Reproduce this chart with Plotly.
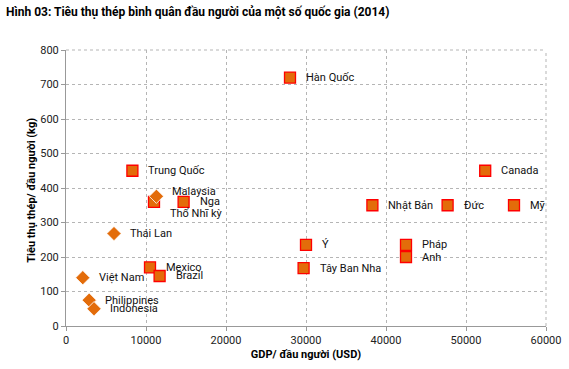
import plotly.graph_objects as go

# Data (GDP per capita USD, steel consumption kg per capita)
sq_names = ["Hàn Quốc", "Trung Quốc", "Canada", "Nhật Bản", "Đức", "Mỹ", "Ý", "Pháp", "Anh",
            "Tây Ban Nha", "Mexico", "Brazil", "Nga", "Thổ Nhĩ kỳ"]
sq_gdp = [28000, 8300, 52400, 38300, 47700, 56000, 30000, 42500, 42500, 29700, 10500, 11700, 14700, 11000]
sq_steel = [720, 450, 450, 350, 350, 350, 235, 235, 200, 168, 170, 145, 360, 360]

dm_names = ["Malaysia", "Thái Lan", "Việt Nam", "Philippines", "Indonesia"]
dm_gdp = [11300, 6000, 2100, 2900, 3500]
dm_steel = [376, 268, 140, 75, 50]

x_ticks = [0, 10000, 20000, 30000, 40000, 50000, 60000]
y_ticks = [0, 100, 200, 300, 400, 500, 600, 700, 800]

title_text = "Hình 03: Tiêu thụ thép bình quân đầu người của một số quốc gia (2014)"
x_title = "GDP/ đầu người (USD)"
y_title = "Tiêu thụ thép/ đầu người (kg)"

# label pixel offsets (style)
label_shift = {"Malaysia": (14, 5), "Thổ Nhĩ kỳ": (14, -12)}

ORANGE = "#E36C0A"
FONT = "Roboto"

fig = go.Figure()
fig.add_trace(go.Scatter(
    x=sq_gdp, y=sq_steel, mode="markers",
    marker=dict(symbol="square", size=11, color=ORANGE, line=dict(color="#FF0000", width=1.3)),
    hoverinfo="skip", showlegend=False, cliponaxis=False))
fig.add_trace(go.Scatter(
    x=dm_gdp, y=dm_steel, mode="markers",
    marker=dict(symbol="diamond", size=11, color=ORANGE, line=dict(color="white", width=0.8)),
    hoverinfo="skip", showlegend=False, cliponaxis=False))

for n, xv, yv in list(zip(sq_names, sq_gdp, sq_steel)) + list(zip(dm_names, dm_gdp, dm_steel)):
    dx, dy = label_shift.get(n, (14, 0))
    fig.add_annotation(x=xv, y=yv, text=n, showarrow=False, xanchor="left", yanchor="middle",
                       xshift=dx, yshift=dy, font=dict(family=FONT, size=11, color="#111"))

fig.add_annotation(xref="paper", yref="paper", x=-62/480, y=1 + 38/276, xanchor="left", yanchor="middle",
                   text="<b>" + title_text + "</b>", showarrow=False,
                   font=dict(family=FONT, size=12, color="#000"))

fig.add_annotation(xref="paper", yref="paper", x=-34/480, y=0.49, xanchor="center", yanchor="middle",
                   text="<b>" + y_title + "</b>", showarrow=False, textangle=-90,
                   font=dict(family=FONT, size=11, color="#000"))

grid = dict(showgrid=True, gridcolor="#b5b5b5", gridwidth=1, griddash="dot")
fig.update_xaxes(range=[0, 60000], tickvals=x_ticks, tickformat="d", ticks="outside", ticklen=4, tickcolor="#999",
                 showline=True, linecolor="#999", linewidth=1, zeroline=False, automargin=False,
                 tickfont=dict(family=FONT, size=11, color="#222"),
                 title=dict(text="<b>" + x_title + "</b>", font=dict(family=FONT, size=11, color="#000"), standoff=4),
                 **grid)
fig.update_yaxes(range=[0, 800], tickvals=y_ticks, tickformat="d", ticks="outside", ticklen=4, tickcolor="#999",
                 showline=True, linecolor="#999", linewidth=1, zeroline=False, automargin=False,
                 tickfont=dict(family=FONT, size=11, color="#222"),
                 **grid)

# dotted border on top and right
fig.add_shape(type="line", xref="paper", yref="paper", x0=0, x1=1, y0=1, y1=1,
              line=dict(color="#b5b5b5", width=1, dash="dot"))
fig.add_shape(type="line", xref="paper", yref="paper", x0=1, x1=1, y0=0, y1=1,
              line=dict(color="#b5b5b5", width=1, dash="dot"))

fig.update_layout(width=569, height=369, margin=dict(l=66, r=23, t=50, b=43),
                  plot_bgcolor="white", paper_bgcolor="white", font=dict(family=FONT))
# remove the default page-body margin so the figure sits at the window's corner
fig.write_html("out.html", config={"displayModeBar": False, "staticPlot": True},
               post_script="document.body.style.margin='0';")
